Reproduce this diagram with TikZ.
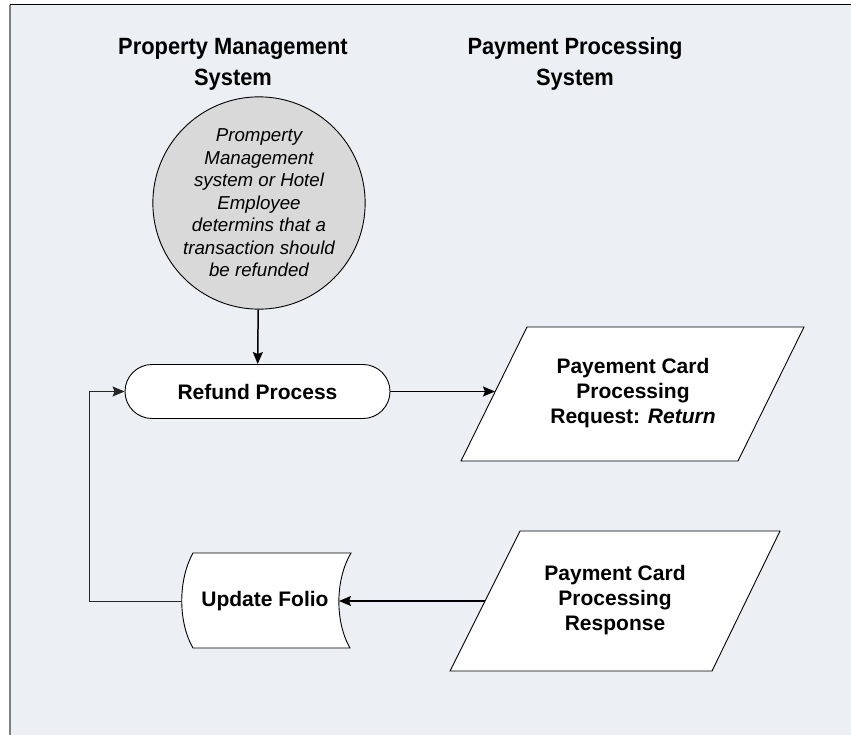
\documentclass[tikz,border=0pt]{standalone}
\usepackage{fontspec}
\setmainfont{Liberation Sans}
\newfontfamily\headfont[FakeStretch=0.93]{Liberation Sans}
\usetikzlibrary{arrows.meta}
\definecolor{panel}{HTML}{ECF0F4}
\definecolor{discfill}{HTML}{D9D9D9}
\definecolor{framegrey}{HTML}{7F7F7F}
\tikzset{
  heading/.style={font=\headfont\fontsize{23.5}{31}\selectfont\bfseries, align=center},
  boxtext/.style={font=\fontsize{21}{25}\selectfont\bfseries, align=center},
  outline/.style={draw=black, line width=0.9pt, fill=white},
  flow/.style={draw=black, line width=1.5pt, -{Stealth[length=12pt,width=10pt,inset=2pt]}},
  loopback/.style={draw=black!85, line width=1pt, -{Stealth[length=12pt,width=10pt,inset=2pt]}},
}
\begin{document}
\begin{tikzpicture}[x=1pt, y=-1pt]
\useasboundingbox (0,0) rectangle (851,735);
% panel and its frame
\fill[white] (0,0) rectangle (851,735);
\fill[panel] (10,5) rectangle (851,735);
\draw[black, line width=1pt] (10,5) -- (851,5);
\draw[framegrey, line width=2pt] (9.5,5) -- (9.5,735);

% column headings
\node[heading] (hpms) at (233,64) {Property Management\\System};
\node[heading] (hpps) at (575,64) {Payment Processing\\System};

% start event
\node[outline, fill=discfill, circle, minimum size=176pt, inner sep=0pt,
      font=\fontsize{18.7}{22.5}\selectfont\itshape, align=center] (start) at (259,203)
  {Promperty\\Management\\system or Hotel\\Employee\\determins that a\\transaction should\\be refunded};

% refund process
\node[outline, rounded corners=27pt, minimum width=265pt, minimum height=54pt,
      boxtext] (refund) at (257.5,391.5) {Refund Process};

% request data (parallelogram)
\draw[outline] (527,327) -- (804,327) -- (738,461) -- (461,461) -- cycle;
\node[boxtext] (request) at (633,393) {Payement Card\\Processing\\Request: \textit{Return}};
\coordinate (requestW) at (495,391.5);

% response data (parallelogram)
\draw[outline] (520,531) -- (780,531) -- (712,671) -- (450,671) -- cycle;
\node[boxtext] (response) at (615,600) {Payment Card\\Processing\\Response};
\coordinate (responseW) at (485,601);

% stored data: update folio
\draw[outline] (193,553) -- (351,553) .. controls (335,580) and (335,622) .. (350,648)
  -- (193,648) .. controls (178,622) and (178,580) .. (193,553) -- cycle;
\node[boxtext] (folio) at (265,601) {Update Folio};
\coordinate (folioE) at (339,601);
\coordinate (folioW) at (182,601);

% connectors
\draw[flow] (start) -- (refund);
\draw[flow] (refund.east) -- (requestW);
\draw[flow] (responseW) -- (folioE);
\draw[loopback] (folioW) -- (89,601) |- (refund.west);
\end{tikzpicture}
\end{document}
